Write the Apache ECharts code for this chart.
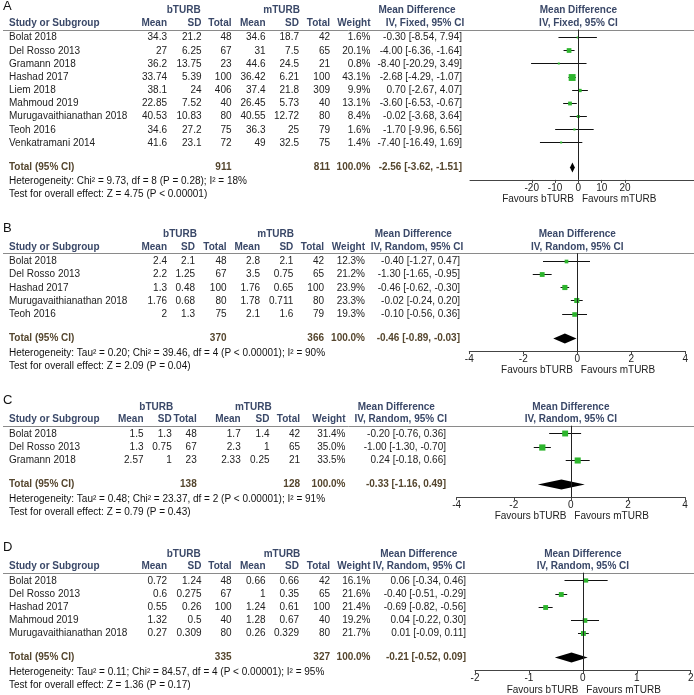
<!DOCTYPE html>
<html><head><meta charset="utf-8">
<script src="https://cdn.jsdelivr.net/npm/echarts@6/dist/echarts.min.js"></script>
<style>html,body{margin:0;padding:0;background:#fff}#c{width:694px;height:695px}</style>
</head><body><div id="c"></div>
<script>
// ---------- Panel A ----------
const aStudy = ['Bolat 2018','Del Rosso 2013','Gramann 2018','Hashad 2017','Liem 2018','Mahmoud 2019','Murugavaithianathan 2018','Teoh 2016','Venkatramani 2014'];
const aBMean = [34.3, 27, 36.2, 33.74, 38.1, 22.85, 40.53, 34.6, 41.6];
const aBSD   = [21.2, 6.25, 13.75, 5.39, 24, 7.52, 10.83, 27.2, 23.1];
const aBN    = [48, 67, 23, 100, 406, 40, 80, 75, 72];
const aMMean = [34.6, 31, 44.6, 36.42, 37.4, 26.45, 40.55, 36.3, 49];
const aMSD   = [18.7, 7.5, 24.5, 6.21, 21.8, 5.73, 12.72, 25, 32.5];
const aMN    = [42, 65, 21, 100, 309, 40, 80, 79, 75];
const aWeight= [1.6, 20.1, 0.8, 43.1, 9.9, 13.1, 8.4, 1.6, 1.4];
const aMD    = [-0.30, -4.00, -8.40, -2.68, 0.70, -3.60, -0.02, -1.70, -7.40];
const aLo    = [-8.54, -6.36, -20.29, -4.29, -2.67, -6.53, -3.68, -9.96, -16.49];
const aHi    = [7.94, -1.64, 3.49, -1.07, 4.07, -0.67, 3.64, 6.56, 1.69];
const aTotalN = [911, 811];
const aTotalCI = [-2.56, -3.62, -1.51];
const aHet = 'Heterogeneity: Chi\u00b2 = 9.73, df = 8 (P = 0.28); I\u00b2 = 18%';
const aTest = 'Test for overall effect: Z = 4.75 (P < 0.00001)';
const aMethod = 'IV, Fixed, 95% CI';
const aTicks = [-20, -10, 0, 10, 20];

// ---------- Panel B ----------
const bStudy = ['Bolat 2018','Del Rosso 2013','Hashad 2017','Murugavaithianathan 2018','Teoh 2016'];
const bBMean = [2.4, 2.2, 1.3, 1.76, 2];
const bBSD   = [2.1, 1.25, 0.48, 0.68, 1.3];
const bBN    = [48, 67, 100, 80, 75];
const bMMean = [2.8, 3.5, 1.76, 1.78, 2.1];
const bMSD   = [2.1, 0.75, 0.65, 0.711, 1.6];
const bMN    = [42, 65, 100, 80, 79];
const bWeight= [12.3, 21.2, 23.9, 23.3, 19.3];
const bMD    = [-0.40, -1.30, -0.46, -0.02, -0.10];
const bLo    = [-1.27, -1.65, -0.62, -0.24, -0.56];
const bHi    = [0.47, -0.95, -0.30, 0.20, 0.36];
const bTotalN = [370, 366];
const bTotalCI = [-0.46, -0.89, -0.03];
const bHet = 'Heterogeneity: Tau\u00b2 = 0.20; Chi\u00b2 = 39.46, df = 4 (P < 0.00001); I\u00b2 = 90%';
const bTest = 'Test for overall effect: Z = 2.09 (P = 0.04)';
const bMethod = 'IV, Random, 95% CI';
const bTicks = [-4, -2, 0, 2, 4];

// ---------- Panel C ----------
const cStudy = ['Bolat 2018','Del Rosso 2013','Gramann 2018'];
const cBMean = [1.5, 1.3, 2.57];
const cBSD   = [1.3, 0.75, 1];
const cBN    = [48, 67, 23];
const cMMean = [1.7, 2.3, 2.33];
const cMSD   = [1.4, 1, 0.25];
const cMN    = [42, 65, 21];
const cWeight= [31.4, 35.0, 33.5];
const cMD    = [-0.20, -1.00, 0.24];
const cLo    = [-0.76, -1.30, -0.18];
const cHi    = [0.36, -0.70, 0.66];
const cTotalN = [138, 128];
const cTotalCI = [-0.33, -1.16, 0.49];
const cHet = 'Heterogeneity: Tau\u00b2 = 0.48; Chi\u00b2 = 23.37, df = 2 (P < 0.00001); I\u00b2 = 91%';
const cTest = 'Test for overall effect: Z = 0.79 (P = 0.43)';
const cMethod = 'IV, Random, 95% CI';
const cTicks = [-4, -2, 0, 2, 4];

// ---------- Panel D ----------
const dStudy = ['Bolat 2018','Del Rosso 2013','Hashad 2017','Mahmoud 2019','Murugavaithianathan 2018'];
const dBMean = [0.72, 0.6, 0.55, 1.32, 0.27];
const dBSD   = [1.24, 0.275, 0.26, 0.5, 0.309];
const dBN    = [48, 67, 100, 40, 80];
const dMMean = [0.66, 1, 1.24, 1.28, 0.26];
const dMSD   = [0.66, 0.35, 0.61, 0.67, 0.329];
const dMN    = [42, 65, 100, 40, 80];
const dWeight= [16.1, 21.6, 21.4, 19.2, 21.7];
const dMD    = [0.06, -0.40, -0.69, 0.04, 0.01];
const dLo    = [-0.34, -0.51, -0.82, -0.22, -0.09];
const dHi    = [0.46, -0.29, -0.56, 0.30, 0.11];
const dTotalN = [335, 327];
const dTotalCI = [-0.21, -0.52, 0.09];
const dHet = 'Heterogeneity: Tau\u00b2 = 0.11; Chi\u00b2 = 84.57, df = 4 (P < 0.00001); I\u00b2 = 95%';
const dTest = 'Test for overall effect: Z = 1.36 (P = 0.17)';
const dMethod = 'IV, Random, 95% CI';
const dTicks = [-2, -1, 0, 1, 2];

const groupNames = ['bTURB', 'mTURB'];
const colHeads = ['Study or Subgroup','Mean','SD','Total','Mean','SD','Total','Weight'];
const totalLabel = 'Total (95% CI)';
const favours = ['Favours bTURB', 'Favours mTURB'];

// ---------- assemble ----------
const panels = [
  {letter:'A', study:aStudy, bMean:aBMean, bSD:aBSD, bN:aBN, mMean:aMMean, mSD:aMSD, mN:aMN, w:aWeight, md:aMD, lo:aLo, hi:aHi, totN:aTotalN, totCI:aTotalCI, het:aHet, test:aTest, method:aMethod, ticks:aTicks},
  {letter:'B', study:bStudy, bMean:bBMean, bSD:bBSD, bN:bBN, mMean:bMMean, mSD:bMSD, mN:bMN, w:bWeight, md:bMD, lo:bLo, hi:bHi, totN:bTotalN, totCI:bTotalCI, het:bHet, test:bTest, method:bMethod, ticks:bTicks},
  {letter:'C', study:cStudy, bMean:cBMean, bSD:cBSD, bN:cBN, mMean:cMMean, mSD:cMSD, mN:cMN, w:cWeight, md:cMD, lo:cLo, hi:cHi, totN:cTotalN, totCI:cTotalCI, het:cHet, test:cTest, method:cMethod, ticks:cTicks},
  {letter:'D', study:dStudy, bMean:dBMean, bSD:dBSD, bN:dBN, mMean:dMMean, mSD:dMSD, mN:dMN, w:dWeight, md:dMD, lo:dLo, hi:dHi, totN:dTotalN, totCI:dTotalCI, het:dHet, test:dTest, method:dMethod, ticks:dTicks}
];

// layout (positions only)
const layouts = [
  {top:29.5, letterY:6.5, gl:470, gw:224, xmin:-46.5, xmax:49.6,
   col:{name:9,bMean:167,bSD:201.5,bN:231.5,mMean:265.5,mSD:299,mN:330,wt:370.5,md:462,mdH1:417,mdH2:425,bH:183.7,mH:281.7}},
  {top:253.3, letterY:228.5, gl:469.3, gw:216, xmin:-4, xmax:4,
   col:{name:9,bMean:167,bSD:195,bN:226.5,mMean:260,mSD:293.3,mN:324,wt:365,md:460,mdH1:413.3,mdH2:417,bH:180,mH:275.7}},
  {top:425.7, letterY:400, gl:456.7, gw:228.3, xmin:-4, xmax:4,
   col:{name:9,bMean:143.5,bSD:171.7,bN:196.7,mMean:240.7,mSD:269.5,mN:300,wt:345.5,md:446,mdH1:396.3,mdH2:400.7,bH:156.3,mH:253.3}},
  {top:572.7, letterY:547, gl:475, gw:215.7, xmin:-2, xmax:2,
   col:{name:9,bMean:167,bSD:201.5,bN:231.5,mMean:265.5,mSD:299,mN:330,wt:370.5,md:466,mdH1:418.8,mdH2:419,bH:183.7,mH:282}}
];

const ROWH = 13.15, FIRST = 8.2, GAP = 1.84, BOTTOM = 12.8;
const FONT = '"Liberation Sans", Arial, sans-serif';
const HEAD = '#3a4868', TOT = '#55462e', TXT = '#222';
const GREEN = '#2db52d';

const chart = echarts.init(document.getElementById('c'), null, {renderer:'canvas'});
const grids = [], xAxes = [], yAxes = [], series = [];
const meta = [];

panels.forEach((p, i) => {
  const L = layouts[i];
  const N = p.study.length;
  const totRow = N - 1 + GAP;
  const ymin = -FIRST / ROWH, ymax = totRow + BOTTOM / ROWH;
  meta.push({totRow});
  grids.push({left:L.gl, width:L.gw, top:L.top, height:(ymax - ymin) * ROWH, outerBoundsMode:'none', containLabel:false});
  xAxes.push({
    gridIndex:i, type:'value', min:L.xmin, max:L.xmax,
    axisLine:{show:true, onZero:false, lineStyle:{color:'#444', width:1}},
    axisTick:{show:true, customValues:p.ticks, length:3, lineStyle:{color:'#444'}},
    axisLabel:{customValues:p.ticks, fontSize:10, margin:3, color:'#222', fontFamily:FONT},
    splitLine:{show:false}
  });
  yAxes.push({gridIndex:i, type:'value', min:ymin, max:ymax, inverse:true, show:false});
  const data = p.md.map((m, k) => [m, p.lo[k], p.hi[k], k, p.w[k], 0]);
  data.push([p.totCI[0], p.totCI[1], p.totCI[2], totRow, 100, 1]);
  series.push({
    type:'custom', xAxisIndex:i, yAxisIndex:i, data:data, silent:true,
    encode:{x:[0,1,2], y:3},
    renderItem:(params, api) => {
      const md = api.value(0), lo = api.value(1), hi = api.value(2), row = api.value(3), w = api.value(4), tot = api.value(5);
      const pm = api.coord([md, row]), pl = api.coord([lo, row]), ph = api.coord([hi, row]);
      const y = Math.round(pm[1] - 0.5) + 0.5;
      if (tot) {
        const h = 5;
        return {type:'polygon', shape:{points:[[pl[0], y], [pm[0], y - h], [ph[0], y], [pm[0], y + h]]}, style:{fill:'#000'}};
      }
      const s = Math.max(2, 1.05 * Math.sqrt(w));
      return {type:'group', children:[
        {type:'line', shape:{x1:pl[0], y1:y, x2:ph[0], y2:y}, style:{stroke:'#111', lineWidth:1}},
        {type:'rect', shape:{x:pm[0] - s / 2, y:y - s / 2, width:s, height:s}, style:{fill:GREEN}}
      ]};
    },
    markLine:{silent:true, symbol:'none', label:{show:false}, animation:false,
      lineStyle:{color:'#222', width:1, type:'solid'}, data:[{xAxis:0}]}
  });
});

chart.setOption({animation:false, backgroundColor:'#fff', grid:grids, xAxis:xAxes, yAxis:yAxes, series:series});

function T(x, y, s, o) {
  o = o || {};
  return {type:'text', x:x, y:y, silent:true, z:10, style:{
    text:s, fontSize:o.size || 10, fontFamily:FONT, fontWeight:o.bold ? 'bold' : 'normal',
    fill:o.color || TXT, align:o.align || 'left', verticalAlign:'middle'}};
}
const fmt = v => String(v);
const ci = (m, l, h) => m.toFixed(2) + ' [' + l.toFixed(2) + ', ' + h.toFixed(2) + ']';

const g = [];
panels.forEach((p, i) => {
  const L = layouts[i], C = L.col;
  const px = (x, r) => chart.convertToPixel({gridIndex:i}, [x, r]);
  const zeroX = px(0, 0)[0];
  const lineY = Math.round(L.top) + 0.5;
  // panel letter
  g.push(T(3, L.letterY, p.letter, {size:13, color:'#111'}));
  // group headers
  const gy = L.top - 18.8, hy = L.top - 6;
  g.push(T(C.bH, gy, groupNames[0], {bold:true, color:HEAD, align:'center'}));
  g.push(T(C.mH, gy, groupNames[1], {bold:true, color:HEAD, align:'center'}));
  g.push(T(C.mdH1, gy, 'Mean Difference', {bold:true, color:HEAD, align:'center'}));
  g.push(T(zeroX, gy, 'Mean Difference', {bold:true, color:HEAD, align:'center'}));
  // column headers
  g.push(T(C.name, hy, colHeads[0], {bold:true, color:HEAD}));
  const cx = [C.bMean, C.bSD, C.bN, C.mMean, C.mSD, C.mN, C.wt];
  cx.forEach((x, k) => g.push(T(x, hy, colHeads[k + 1], {bold:true, color:HEAD, align:'right'})));
  g.push(T(C.mdH2, hy, p.method, {bold:true, color:HEAD, align:'center'}));
  g.push(T(zeroX, hy, p.method, {bold:true, color:HEAD, align:'center'}));
  // header rule
  g.push({type:'line', silent:true, shape:{x1:3, y1:lineY, x2:694, y2:lineY}, style:{stroke:'#8a8a8a', lineWidth:1}});
  // study rows
  p.study.forEach((s, k) => {
    const y = px(0, k)[1];
    g.push(T(C.name, y, s));
    const vals = [fmt(p.bMean[k]), fmt(p.bSD[k]), fmt(p.bN[k]), fmt(p.mMean[k]), fmt(p.mSD[k]), fmt(p.mN[k]), p.w[k].toFixed(1) + '%'];
    vals.forEach((v, j) => g.push(T(cx[j], y, v, {align:'right'})));
    g.push(T(C.md, y, ci(p.md[k], p.lo[k], p.hi[k]), {align:'right'}));
  });
  // total row
  const ty = px(0, meta[i].totRow)[1];
  g.push(T(C.name, ty, totalLabel, {bold:true, color:TOT}));
  g.push(T(C.bN, ty, fmt(p.totN[0]), {bold:true, color:TOT, align:'right'}));
  g.push(T(C.mN, ty, fmt(p.totN[1]), {bold:true, color:TOT, align:'right'}));
  g.push(T(C.wt, ty, '100.0%', {bold:true, color:TOT, align:'right'}));
  g.push(T(C.md, ty, ci(p.totCI[0], p.totCI[1], p.totCI[2]), {bold:true, color:TOT, align:'right'}));
  g.push(T(C.name, ty + 14.5, p.het, {color:'#111'}));
  g.push(T(C.name, ty + 27.5, p.test, {color:'#111'}));
  // favours
  const axisY = px(0, 0)[1] + (chart.getModel().getComponent('grid', i).coordinateSystem.getRect().y + chart.getModel().getComponent('grid', i).coordinateSystem.getRect().height - px(0, 0)[1]);
  g.push(T(zeroX - 4.5, axisY + 19.5, favours[0], {align:'right'}));
  g.push(T(zeroX + 3.5, axisY + 19.5, favours[1], {align:'left'}));
});

chart.setOption({graphic:{elements:g}});
</script>
</body></html>
